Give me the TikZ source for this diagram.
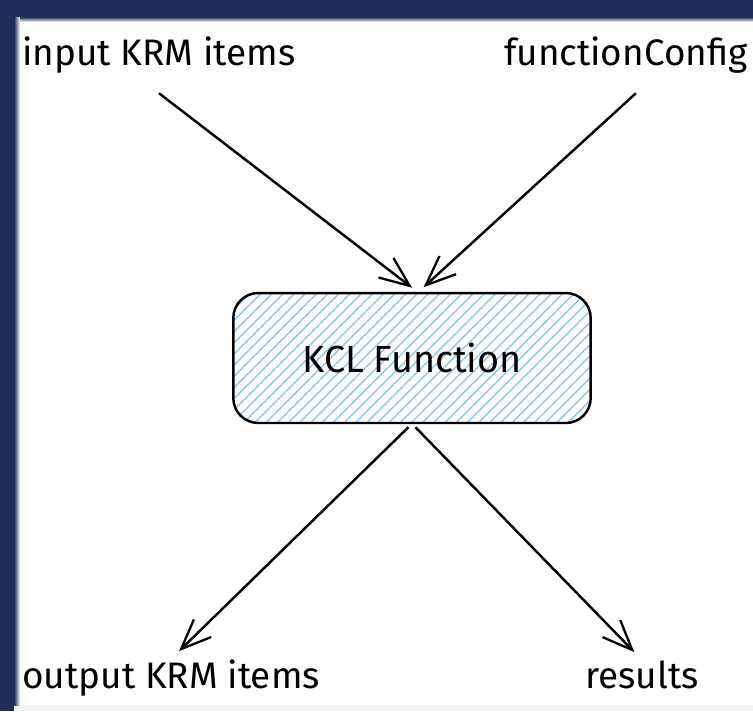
\documentclass[tikz,border=0pt]{standalone}
\usepackage{fontspec}
\setmainfont{Fira Sans}
\usetikzlibrary{arrows.meta,patterns.meta,positioning}

\definecolor{frameblue}{HTML}{1E2D5A}
\definecolor{hatchblue}{HTML}{8CC6F0}

\tikzset{
  labeltext/.style = {font=\fontsize{21}{25}\selectfont, inner sep=0pt},
  kclbox/.style = {draw, line width=1.4pt, rounded corners=0.5cm,
    minimum width=7.15cm, minimum height=2.6cm,
    font=\fontsize{21.5}{25}\selectfont,
    pattern={Lines[angle=45, distance=4.5pt, line width=0.8pt]},
    pattern color=hatchblue},
  flow/.style = {-{Straight Barb[length=17pt, width=14pt, line width=1.3pt]},
    line width=1.4pt}
}

\begin{document}
\begin{tikzpicture}[x=0.02cm, y=-0.02cm]
  \useasboundingbox (0,0) rectangle (753,711);

  % frame
  \fill[gray!8] (14,705) rectangle (753,711);
  \fill[frameblue] (0,0) rectangle (753,17);
  \fill[frameblue] (0,0) rectangle (14,711);
  \shade[left color=frameblue, right color=white] (14,17) rectangle (20,705);
  \shade[top color=frameblue, bottom color=white] (20,17) rectangle (753,22);

  % texts and box
  \node[labeltext, anchor=base west] (in) at (22,65) {input KRM items};
  \node[labeltext, anchor=base east] (fc) at (748,65) {functionConfig};
  \node[kclbox] (kcl) at (412,358) {KCL Function};
  \node[labeltext, anchor=base west] (out) at (22,688) {output KRM items};
  \node[labeltext, anchor=base west] (res) at (585,688) {results};

  \coordinate[below=0.4cm of in] (inTail);
  \coordinate[below=0.4cm of fc] (fcTail);

  % arrows
  \draw[flow, shorten >=0.15cm] (inTail) -- ([xshift=0.12cm]kcl.north);
  \draw[flow, shorten >=0.15cm] ([xshift=0.2cm]fcTail) -- ([xshift=0.12cm]kcl.north);
  \draw[flow, shorten <=0.1cm, shorten >=0.22cm] (kcl.south) -- (out.north);
  \draw[flow, shorten <=0.1cm, shorten >=0.22cm] (kcl.south) -- (res.north);
\end{tikzpicture}
\end{document}
